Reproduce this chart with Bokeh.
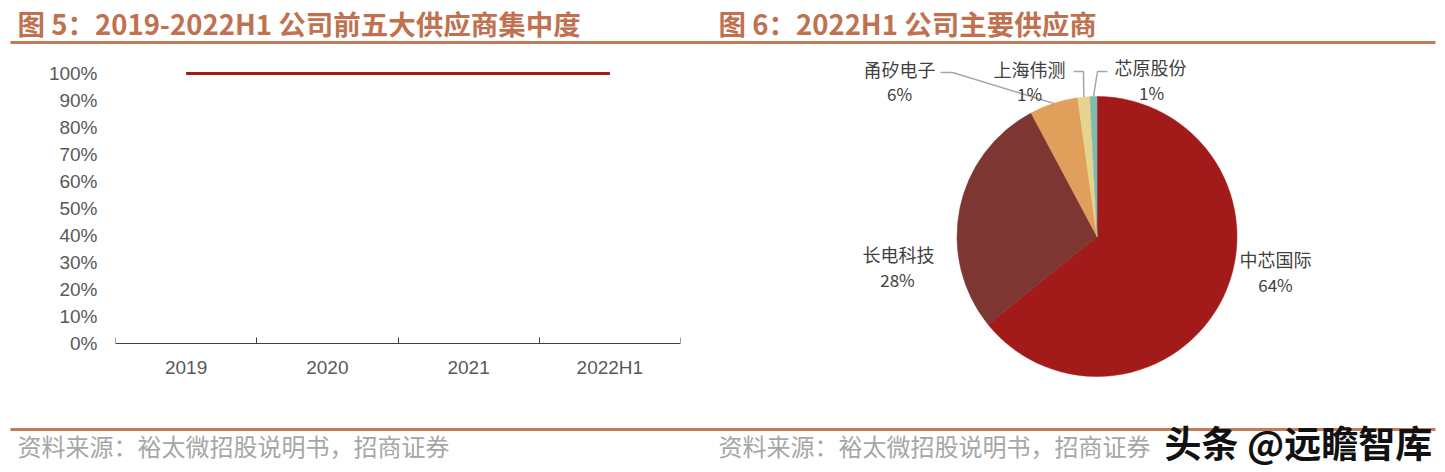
import math
from bokeh.plotting import figure
from bokeh.layouts import column, row
from bokeh.models import Range1d, FixedTicker, NumeralTickFormatter, ColumnDataSource
from bokeh.core.properties import value
from bokeh.embed import file_html
from bokeh.resources import INLINE

# ---------------- data ----------------
years = ["2019", "2020", "2021", "2022H1"]
top5_share = [1.00, 1.00, 1.00, 1.00]
y_ticks = [0.0, 0.1, 0.2, 0.3, 0.4, 0.5, 0.6, 0.7, 0.8, 0.9, 1.0]

suppliers = ["中芯国际", "长电科技", "甬矽电子", "上海伟测", "芯原股份"]
supplier_share = [64.2, 28.0, 5.6, 1.4, 0.8]
supplier_colors = ["#A21A19", "#7E3633", "#E09F5B", "#E4D48F", "#80BBB1"]

title_left = "图 5：2019-2022H1 公司前五大供应商集中度"
title_right = "图 6：2022H1 公司主要供应商"
source_text = "资料来源：裕太微招股说明书，招商证券"
watermark = "头条 @远瞻智库"

# ---------------- styles ----------------
CJK = value("Noto Sans CJK SC")
LAT = "Liberation Sans"
TITLE_COLOR = "#C0714F"
RULE_COLOR = "#C27A58"
AXIS_TEXT = "#595959"
LABEL_TEXT = "#404040"
SRC_COLOR = "#A6A6A6"

TOTAL_W = 1437
HEAD_H, MID_H, FOOT_H = 46, 354, 72
LEFT_W = 712
RIGHT_W = TOTAL_W - LEFT_W
MID_TOP = HEAD_H
MID_BOTTOM = HEAD_H + MID_H


def blank_fig(w, h, x0, x1, y0, y1):
    f = figure(width=w, height=h, x_range=Range1d(x0, x1), y_range=Range1d(y0, y1),
               x_axis_type=None, y_axis_type=None, toolbar_location=None,
               output_backend="svg", min_border=0, min_border_left=0,
               min_border_right=0, min_border_top=0, min_border_bottom=0)
    f.outline_line_color = None
    f.xgrid.visible = False
    f.ygrid.visible = False
    return f


# ---------------- header ----------------
header = blank_fig(TOTAL_W, HEAD_H, 0, TOTAL_W, -HEAD_H, 0)
header.text(x=[17, 718], y=[-22, -22], text=[title_left, title_right], text_font=CJK,
            text_font_style="bold", text_font_size="27.5px", text_color=TITLE_COLOR,
            text_baseline="middle", text_align="left")
header.segment(x0=[10], y0=[-42], x1=[1435], y1=[-42], line_width=3, line_color=RULE_COLOR)

# ---------------- left line chart ----------------
# pixel layout: value 0 at y=343, value 1 at y=73 (270 px per unit)
PX_PER_UNIT = 270.0
ZERO_Y = 343
y_lo = -(MID_BOTTOM - ZERO_Y) / PX_PER_UNIT
y_hi = (ZERO_Y - MID_TOP) / PX_PER_UNIT

left = figure(width=LEFT_W, height=MID_H, x_range=Range1d(0, len(years)),
              y_range=Range1d(y_lo, y_hi), toolbar_location=None, output_backend="svg",
              min_border_left=115, min_border_right=32, min_border_top=0,
              min_border_bottom=0)
left.outline_line_color = None
left.xgrid.visible = False
left.ygrid.visible = False

xs = [i + 0.5 for i in range(len(years))]
left.line(x=xs, y=top5_share, line_color="#A21A19", line_width=3)

xa = left.xaxis[0]
xa.fixed_location = 0
xa.ticker = FixedTicker(ticks=xs, minor_ticks=list(range(len(years) + 1)))
xa.major_label_overrides = {x: yv for x, yv in zip(xs, years)}
xa.major_tick_line_color = None
xa.major_tick_in = 0
xa.major_tick_out = 0
xa.minor_tick_line_color = "#404040"
xa.minor_tick_in = 6
xa.minor_tick_out = 0
xa.axis_line_color = "#404040"
xa.axis_line_width = 1
xa.major_label_standoff = 13
xa.major_label_text_font = LAT
xa.major_label_text_font_size = "19px"
xa.major_label_text_color = AXIS_TEXT

ya = left.yaxis[0]
ya.ticker = FixedTicker(ticks=y_ticks, minor_ticks=[])
ya.formatter = NumeralTickFormatter(format="0%")
ya.axis_line_color = None
ya.major_tick_line_color = None
ya.minor_tick_line_color = None
ya.major_tick_in = 0
ya.major_tick_out = 0
ya.major_label_standoff = 18
ya.major_label_text_font = LAT
ya.major_label_text_font_size = "19px"
ya.major_label_text_color = AXIS_TEXT

# ---------------- right pie chart ----------------
right = blank_fig(RIGHT_W, MID_H, LEFT_W, TOTAL_W, -MID_BOTTOM, -MID_TOP)
cx, cy, R = 1096.5, -236, 140

total = sum(supplier_share)
starts, ends, mids = [], [], []
cum = 0.0
for v in supplier_share:
    a0 = math.pi / 2 - 2 * math.pi * cum / total
    cum += v
    a1 = math.pi / 2 - 2 * math.pi * cum / total
    starts.append(a0)
    ends.append(a1)
    mids.append((a0 + a1) / 2)

src = ColumnDataSource(dict(start=starts, end=ends, color=supplier_colors, name=suppliers))
right.wedge(x=cx, y=cy, radius=R, start_angle="start", end_angle="end", direction="clock",
            fill_color="color", line_color="color", line_width=0.5, source=src)

# label layout (reference pixel positions, y downwards)
name_pos = [(1275, 258), (898, 253), (899, 68), (1029, 68), (1150, 66)]
pct_pos = [(1275, 284), (897, 279), (899, 93), (1029, 93), (1151, 92)]
# leader elbows / ends for the small slices (None = no leader)
leaders = [None, None, [(952, 72), (940, 72)], [(1083, 71), (1073, 71)], [(1097, 71), (1107, 71)]]

for i, lead in enumerate(leaders):
    if lead is None:
        continue
    rx = cx + R * math.cos(mids[i])
    ry = cy + R * math.sin(mids[i])
    lx = [rx] + [p[0] for p in lead]
    ly = [ry] + [-p[1] for p in lead]
    right.line(x=lx, y=ly, line_color="#A6A6A6", line_width=1.5)

right.text(x=[p[0] for p in name_pos], y=[-p[1] for p in name_pos], text=suppliers,
           text_font=CJK, text_font_size="18px", text_color=LABEL_TEXT,
           text_align="center", text_baseline="middle")
pct_labels = [f"{round(v / total * 100)}%" for v in supplier_share]
right.text(x=[p[0] for p in pct_pos], y=[-p[1] for p in pct_pos], text=pct_labels,
           text_font=CJK, text_font_size="17px", text_color=LABEL_TEXT,
           text_align="center", text_baseline="middle")

# ---------------- footer ----------------
footer = blank_fig(TOTAL_W, FOOT_H, 0, TOTAL_W, -(MID_BOTTOM + FOOT_H), -MID_BOTTOM)
footer.segment(x0=[10], y0=[-429], x1=[1435], y1=[-429], line_width=3, line_color=RULE_COLOR)
footer.text(x=[17, 718], y=[-445, -445], text=[source_text, source_text], text_font=CJK,
            text_font_size="24px", text_color=SRC_COLOR, text_align="left",
            text_baseline="middle")
footer.text(x=[1164], y=[-441], text=[watermark], text_font=CJK, text_font_style="bold",
            text_font_size="37px", text_color="#111111", text_align="left",
            text_baseline="middle")

layout = column(header, row(left, right), footer)

with open("out.html", "w") as fh:
    fh.write(file_html(layout, INLINE))
